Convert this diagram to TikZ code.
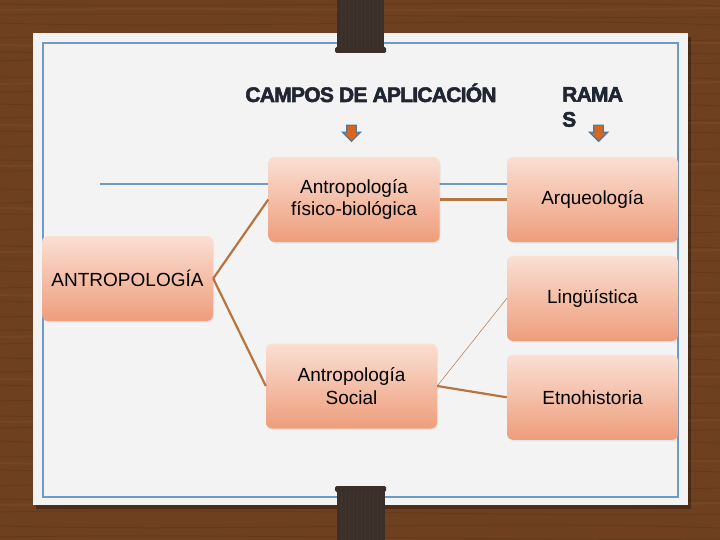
\documentclass[tikz,border=0pt]{standalone}
\usepackage{fontspec}
\setmainfont{Liberation Sans}
\usetikzlibrary{positioning,shapes.arrows,shadows}

\definecolor{wood}{HTML}{6E401F}
\definecolor{wooddark}{HTML}{42230E}
\definecolor{woodlight}{HTML}{8A5630}
\definecolor{paper}{HTML}{F3F3F3}
\definecolor{frameblue}{HTML}{6C9CC6}
\definecolor{clipbrown}{HTML}{3B3029}
\definecolor{boxtop}{HTML}{FADFD3}
\definecolor{boxbottom}{HTML}{EE9D7B}
\definecolor{linkbrown}{HTML}{B8743E}
\definecolor{titleink}{HTML}{1F2531}
\definecolor{arrowblue}{HTML}{56769A}
\definecolor{arroworange}{HTML}{D9661F}

\begin{document}
\begin{tikzpicture}[x=1pt, y=-1pt,
	basic/.style    = {rectangle, rounded corners=6pt, top color=boxtop, bottom color=boxbottom, drop shadow={opacity=0.12, shadow xshift=1pt, shadow yshift=-1.5pt}, minimum width=171pt, minimum height=85pt, align=center, inner sep=2pt, font=\fontsize{19}{22.5}\selectfont},
	root/.style     = {basic},
	campo/.style    = {basic},
	rama/.style     = {basic},
	head/.style     = {font=\fontsize{21}{25}\selectfont\bfseries\addfontfeatures{FakeBold=2.5,LetterSpace=-3.5}, text=titleink, inner sep=0pt},
	pointer/.style  = {single arrow, shape border rotate=270, draw=arrowblue, fill=arroworange, line width=1.3pt, minimum height=16pt, single arrow head extend=4.5pt, inner sep=4pt},
	link/.style     = {draw=linkbrown, line width=2.2pt},
	thinlink/.style = {draw=linkbrown, line width=0.5pt},
	node distance=13.5pt]
	\useasboundingbox (0,0) rectangle (720,540);
	
	% wooden table and the sheet of paper
	\fill[wood] (0,0) rectangle (720,540);
	\foreach \yy/\bend in {4/5,15/-4,23/7,38/-6,52/3,61/-8,77/6,92/-3,104/8,118/-5,131/4,147/-7,160/5,171/-3,189/7,203/-6,214/4,230/-8,246/5,259/-2,271/6,288/-5,301/8,317/-4,330/3,344/-7,358/6,372/-3,385/7,401/-6,416/4,428/-5,441/8,457/-3,470/5,486/-7,499/3,512/-5,526/6,537/-4}
	\draw[wooddark, opacity=0.2, line width=1pt] (0,\yy) .. controls (220,\yy+\bend) and (500,\yy-\bend) .. (720,\yy+2);
	\foreach \yy/\bend in {10/-3,45/5,84/-6,125/4,166/-5,208/6,252/-4,295/5,337/-6,379/4,422/-5,463/6,505/-4}
	\draw[woodlight, opacity=0.3, line width=2pt] (0,\yy) .. controls (260,\yy+\bend) and (460,\yy-\bend) .. (720,\yy-2);
	\fill[black, opacity=0.3] (36,37) rectangle (691,509);
	\fill[paper] (33,33) rectangle (688,505);
	\draw[frameblue, line width=1.6pt] (43,43) rectangle (678,497);
	
	% clips at top and bottom
	\fill[clipbrown] (337,0) rectangle (384,50);
	\fill[clipbrown, rounded corners=1.5pt] (335,47) rectangle (386,53);
	\fill[clipbrown] (337,489) rectangle (385,540);
	\fill[clipbrown, rounded corners=1.5pt] (335,486) rectangle (386,492);
	\foreach \xx in {341,345,...,381} {
		\draw[white, opacity=0.03, line width=0.8pt] (\xx,0) -- (\xx,47);
		\draw[white, opacity=0.03, line width=0.8pt] (\xx,492) -- (\xx,540);
	}
	
	% headings with their pointers
	\node[head, anchor=base] (campos) at (371,102) {CAMPOS DE APLICACIÓN};
	\node[head, anchor=north west, align=left] (ramas) at (562,87) {RAMA\\S};
	\node[pointer] (pcampos) at (351.5,131) {};
	\node[pointer] (pramas) at (598.5,131) {};
	
	% blue rule behind the top row
	\coordinate (bluestart) at (100,184);
	\coordinate (blueend) at (507,184);
	\draw[frameblue, line width=1.6pt] (bluestart) -- (blueend);
	
	% root and fields of application
	\node[root] (antro) at (127.5,278.5) {ANTROPOLOGÍA};
	\node[campo] (fisico) at (354,199.5) {Antropología\\físico-biológica};
	\node[campo] (social) at (351.5,386) {Antropología\\Social};
	
	% branches, relatively positioned nodes
	\node[rama] (arq) at (592.5,199.5) {Arqueología};
	\node[rama, below=of arq] (ling) {Lingüística};
	\node[rama, below=of ling] (etno) {Etnohistoria};
	
	% connectors
	\draw[link] (antro.east) -- (fisico.west);
	\draw[link] (antro.east) -- (social.west);
	\draw[link] (fisico.east) -- (arq.west);
	\draw[link] (social.east) -- (etno.west);
	\draw[thinlink] (social.east) -- (ling.west);
	
\end{tikzpicture}
\end{document}
